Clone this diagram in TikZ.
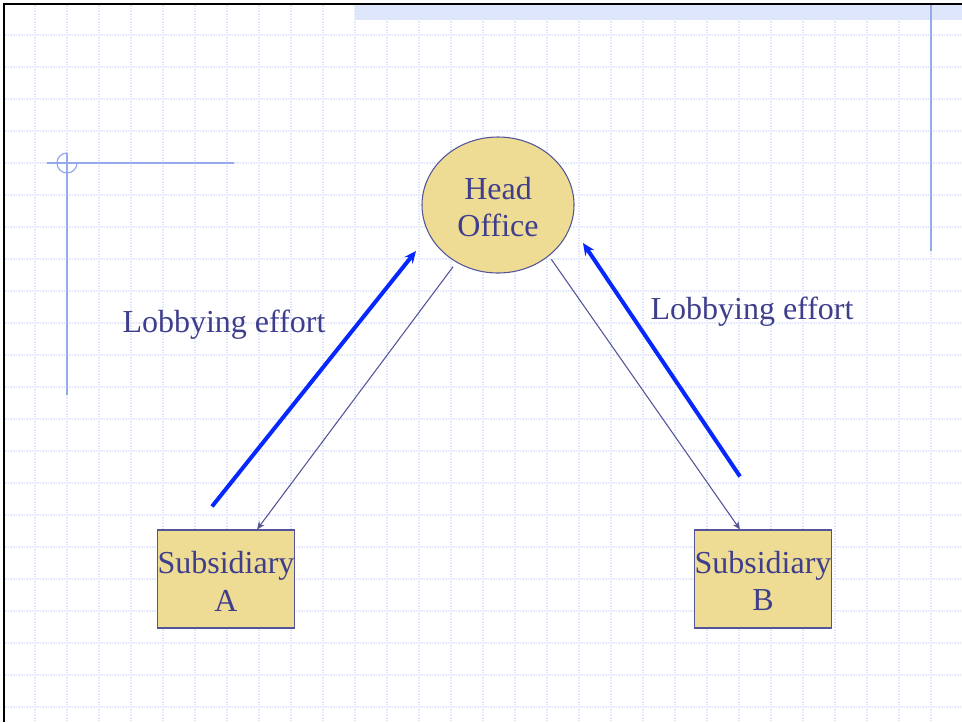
\documentclass[tikz,border=0pt]{standalone}
\usepackage{fontspec}
\setmainfont{Liberation Serif}
\usetikzlibrary{arrows.meta,calc,shapes.geometric}
\definecolor{txtblue}{RGB}{62,62,140}
\definecolor{boxfill}{RGB}{238,220,148}
\definecolor{edgeblue}{RGB}{84,84,152}
\definecolor{gridblue}{RGB}{226,232,251}
\definecolor{bandblue}{RGB}{222,230,251}
\definecolor{markblue}{RGB}{148,170,236}
\definecolor{lobbyblue}{RGB}{6,40,255}
\tikzset{
  office/.style={ellipse,draw=edgeblue,fill=boxfill,line width=0.8pt,
    minimum width=114pt,minimum height=102pt,inner sep=0pt,align=center},
  subbox/.style={rectangle,draw=edgeblue,fill=boxfill,line width=0.8pt,
    minimum width=102pt,minimum height=73.5pt,inner sep=0pt,align=center},
  gridline/.style={gridblue,line width=0.9pt,dash pattern=on 1.2pt off 0.8pt},
  down/.style={edgeblue,line width=0.8pt,-{Stealth[length=6pt,width=5pt]}},
  lobby/.style={lobbyblue,line width=3pt,-{Stealth[length=9pt,width=8pt]}}
}
\begin{document}
\begin{tikzpicture}[x=0.75pt,y=-0.75pt,font=\fontsize{24}{28}\selectfont,text=txtblue]
            \useasboundingbox (0,0) rectangle (962,722);
            \fill[white] (0,0) rectangle (962,722);
            \foreach \k in {1,...,29}\draw[gridline] (3+32*\k,5)--(3+32*\k,722);
            \foreach \k in {1,...,22}\draw[gridline] (5,3+32*\k)--(962,3+32*\k);
            \fill[bandblue] (355,5) rectangle (962,20);
            \draw[line width=1.2pt] (4,722)--(4,4)--(962,4);
            %===========================================
            \draw[markblue,line width=0.9pt] (931,5)--(931,251)
            (47,163)--(234,163) (67,153)--(67,395);
            \draw[markblue,line width=0.9pt] (67,153) arc[start angle=90,end angle=360,radius=7.5pt];
            %===========================================
            \node[office] (ho) at (498,205) {\rule{0pt}{20pt}Head\\Office};
            \node[subbox] (sa) at (226,579) {\rule{0pt}{20pt}Subsidiary\\A};
            \node[subbox] (sb) at (763,579) {\rule{0pt}{20pt}Subsidiary\\B};
            \node (lobA) at (224,325) {Lobbying effort};
            \node (lobB) at (752,312) {Lobbying effort};
            \coordinate (a1) at ($(sa.north)+(-14,-23)$);
            \coordinate (a2) at ($(ho.center)+(-82,46)$);
            \coordinate (b1) at ($(sb.north)+(-23,-53)$);
            \coordinate (b2) at ($(ho.center)+(85,38)$);
            \draw[down,shorten <=4pt] (ho.234)--($(sa.north)+(31,0)$);
            \draw[down,shorten <=3pt] (ho.315)--($(sb.north)+(-23,0)$);
            \draw[lobby] (a1)--(a2);
            \draw[lobby] (b1)--(b2);
    \end{tikzpicture}
\end{document}
